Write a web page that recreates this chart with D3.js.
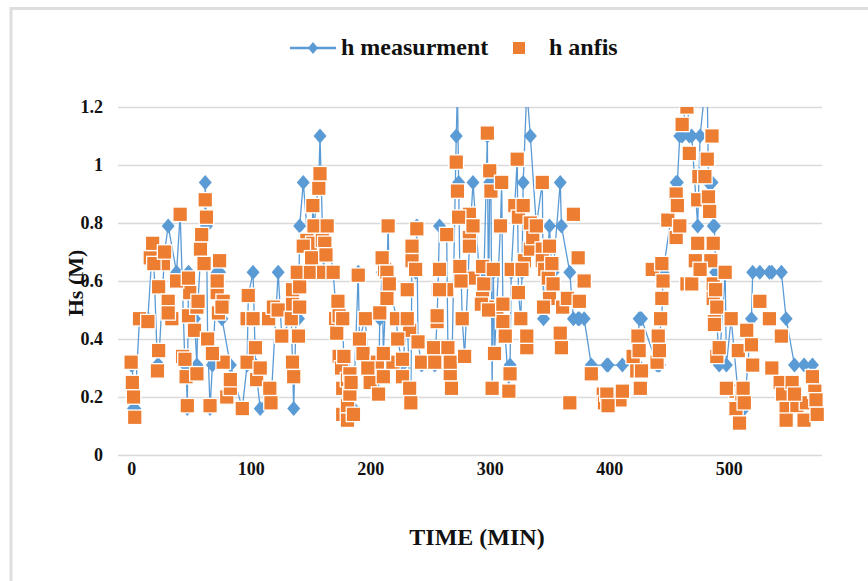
<!DOCTYPE html>
<html>
<head>
<meta charset="utf-8">
<script src="https://cdn.jsdelivr.net/npm/d3@7"></script>
<style>
  body { margin: 0; background: #fff; }
</style>
</head>
<body>
<div id="chart"></div>
<script>
const serif = "'Liberation Serif', 'Times New Roman', Times, serif";

// h measurment: time (min) and Hs (m)
const measTime = [0, 1, 2, 3, 7, 14, 18, 19, 22, 23, 28, 31, 38, 41, 45, 46, 47, 48, 53, 55, 56, 59, 61, 62, 63, 64, 66, 68, 72, 74, 76, 83, 93, 97, 98, 102, 104, 108, 116, 117,
  123, 126, 134, 135, 136, 139, 140, 141, 144, 150, 151, 152, 153, 157, 158, 161, 162, 163, 164, 169, 172, 173, 174, 177, 178, 181, 183, 184, 186, 190,
  191, 196, 198, 207, 208, 210, 211, 214, 215, 216, 222, 223, 227, 231, 233, 234, 235, 238, 239, 240, 243, 253, 254, 256, 258, 264, 265, 267, 268, 272,
  273, 274, 275, 276, 277, 279, 283, 286, 293, 294, 295, 298, 299, 300, 301, 302, 303, 304, 309, 310, 311, 313, 316, 317, 318, 323, 324, 326, 327, 328,
  331, 334, 339, 344, 345, 350, 352, 353, 359, 360, 367, 370, 374, 375, 379, 385, 398, 399, 411, 424, 425, 426, 427, 440, 441, 442, 443, 444, 445, 456,
  457, 459, 461, 465, 467, 469, 474, 476, 480, 482, 483, 484, 486, 487, 488, 489, 490, 492, 497, 498, 502, 509, 512, 513, 519, 520, 526, 534, 536, 544,
  548, 555, 563, 570, 572, 573, 574];
const measHs = [0.31, 0.31, 0.16, 0.16, 0.47, 0.47, 0.73, 0.66, 0.31, 0.31, 0.70, 0.79, 0.63, 0.83, 0.31, 0.31, 0.16, 0.63, 0.47, 0.31,
  0.53, 0.76, 0.66, 0.94, 0.79, 0.40, 0.16, 0.31, 0.63, 0.63, 0.47, 0.31, 0.16, 0.31, 0.55, 0.63, 0.31, 0.16, 0.23, 0.18,
  0.63, 0.41, 0.47, 0.31, 0.16, 0.63, 0.47, 0.79, 0.94, 0.63, 0.68, 0.86, 0.79, 0.94, 1.10, 0.63, 0.73, 0.69, 0.79, 0.63,
  0.47, 0.53, 0.47, 0.47, 0.31, 0.12, 0.28, 0.25, 0.16, 0.63,
  0.40, 0.47, 0.31, 0.21, 0.47, 0.63, 0.35, 0.63, 0.79, 0.59, 0.47, 0.40, 0.31, 0.47, 0.23, 0.18, 0.72, 0.63, 0.79, 0.39,
  0.31, 0.37, 0.31, 0.47, 0.79, 0.76, 0.37, 0.31, 0.23, 1.10,
  1.26, 0.94, 0.63, 0.63, 0.47, 0.34, 0.72, 0.94, 0.52, 0.63, 0.59, 1.10, 0.50, 0.94, 0.94, 0.23, 0.63, 0.35, 0.79, 0.94,
  0.52, 0.41, 0.22, 0.31, 0.63, 1.02, 0.56, 0.47, 0.63, 0.94,
  1.26, 1.10, 0.79, 0.94, 0.47, 0.79, 0.63, 0.63, 0.94, 0.79, 0.63, 0.47, 0.47, 0.47, 0.47, 0.31, 0.31, 0.31, 0.31, 0.31,
  0.47, 0.47, 0.47, 0.31, 0.31, 0.31, 0.47, 0.47, 0.63, 0.94,
  0.94, 1.10, 1.10, 1.26, 1.10, 1.10, 0.79, 1.10, 1.26, 1.26, 0.94, 0.94, 0.94, 0.79, 0.79, 0.63, 0.47, 0.31, 0.63, 0.31,
  0.47, 0.16, 0.16, 0.16, 0.47, 0.63, 0.63, 0.63, 0.63, 0.63,
  0.47, 0.31, 0.31, 0.31, 0.16, 0.16, 0.16];

// h anfis: partly hidden squares first, then the ones on top
const anfisTime = [16, 23, 27, 31, 34, 43, 48, 49, 55, 58, 72, 73, 77, 77, 80, 83, 97, 105, 115, 119,
  135, 135, 141, 147, 152, 160, 171, 174, 176, 177, 177, 181, 181, 183, 194, 200, 206, 211, 212, 214,
  219, 227, 231, 233, 235, 256, 257, 258, 264, 267, 283, 283, 286, 294, 298, 306, 311, 321, 324, 329,
  331, 334, 336, 344, 344, 346, 349, 350, 361, 365, 395, 396, 409, 420, 423, 436, 444, 449, 456, 465,
  472, 474, 475, 485, 487, 487, 488, 490, 506, 506, 508, 511, 515, 543, 545, 548, 553, 557, 565,
  0, 1, 2, 3, 7, 14, 18, 19, 22, 23, 28, 31, 38, 41, 45, 46, 47, 48, 53, 55, 56, 59, 61, 62, 63, 64, 66, 68, 72, 74, 76, 83, 93, 97, 98, 102, 104, 108, 116, 117,
  123, 126, 134, 135, 136, 139, 140, 141, 144, 150, 151, 152, 153, 157, 158, 161, 162, 163, 164, 169, 172, 173, 174, 177, 178, 181, 183, 184, 186, 190,
  191, 196, 198, 207, 208, 210, 211, 214, 215, 216, 222, 223, 227, 231, 233, 234, 235, 238, 239, 240, 243, 253, 254, 256, 258, 264, 265, 267, 268, 272,
  273, 274, 275, 276, 277, 279, 283, 286, 293, 294, 295, 298, 299, 300, 301, 302, 303, 304, 309, 310, 311, 313, 316, 317, 318, 323, 324, 326, 327, 328,
  331, 334, 339, 344, 345, 350, 352, 353, 359, 360, 367, 370, 374, 375, 379, 385, 398, 399, 411, 424, 425, 426, 427, 440, 441, 442, 443, 444, 445, 456,
  457, 459, 461, 465, 467, 469, 474, 476, 480, 482, 483, 484, 486, 487, 488, 489, 490, 492, 497, 498, 502, 509, 512, 513, 519, 520, 526, 534, 536, 544,
  548, 555, 563, 570, 572, 573, 574];
const anfisHs = [0.68, 0.58, 0.66, 0.53, 0.47, 0.34, 0.48, 0.56, 0.51, 0.71, 0.56, 0.49, 0.53, 0.32, 0.20, 0.23, 0.47, 0.26, 0.47, 0.51,
  0.52, 0.57, 0.58, 0.74, 0.73, 0.74, 0.47, 0.34, 0.30, 0.23, 0.14, 0.17, 0.26, 0.21, 0.35, 0.25, 0.32, 0.27, 0.64, 0.54,
  0.32, 0.27, 0.57, 0.43, 0.67, 0.46, 0.57, 0.64, 0.57, 0.28, 0.83, 0.75, 0.61, 0.54, 0.51, 0.50, 0.46, 0.86, 0.82, 0.67,
  0.37, 0.71, 0.75, 0.71, 0.67, 0.64, 0.61, 0.54, 0.51, 0.54, 0.21, 0.18, 0.19, 0.34, 0.29, 0.64, 0.66, 0.81, 0.75, 0.59,
  0.67, 0.88, 0.96, 0.67, 0.59, 0.54, 0.46, 0.34, 0.22, 0.16, 0.36, 0.21, 0.43, 0.25, 0.21, 0.16, 0.25, 0.17, 0.18,
  0.32, 0.25, 0.20, 0.13, 0.47, 0.46, 0.73, 0.66, 0.29, 0.36, 0.70, 0.49, 0.60, 0.83, 0.33, 0.27, 0.17, 0.61, 0.43, 0.28,
  0.53, 0.76, 0.66, 0.88, 0.82, 0.40, 0.17, 0.35, 0.60, 0.67, 0.51, 0.26, 0.16, 0.32, 0.55, 0.47, 0.37, 0.30, 0.23, 0.18,
  0.50, 0.41, 0.47, 0.32, 0.27, 0.63, 0.41, 0.51, 0.72, 0.63, 0.68, 0.86, 0.79, 0.92, 0.97, 0.63, 0.73, 0.69, 0.79, 0.63,
  0.42, 0.53, 0.48, 0.47, 0.34, 0.12, 0.28, 0.25, 0.14, 0.62,
  0.40, 0.47, 0.30, 0.21, 0.49, 0.68, 0.35, 0.63, 0.79, 0.59, 0.47, 0.40, 0.33, 0.47, 0.23, 0.18, 0.72, 0.64, 0.78, 0.39,
  0.32, 0.37, 0.32, 0.48, 0.57, 0.76, 0.37, 0.32, 0.23, 1.01,
  0.91, 0.82, 0.65, 0.60, 0.47, 0.34, 0.72, 0.79, 0.52, 0.65, 0.59, 1.11, 0.50, 0.98, 0.91, 0.23, 0.64, 0.35, 0.79, 0.94,
  0.52, 0.41, 0.22, 0.28, 0.64, 1.02, 0.56, 0.47, 0.64, 0.86,
  0.41, 0.80, 0.79, 0.94, 0.51, 0.72, 0.66, 0.59, 0.42, 0.37, 0.18, 0.83, 0.68, 0.53, 0.60, 0.28, 0.21, 0.17, 0.22, 0.41,
  0.36, 0.23, 0.29, 0.32, 0.41, 0.36, 0.47, 0.54, 0.60, 0.90,
  0.86, 0.79, 1.14, 1.20, 1.04, 0.59, 0.73, 0.64, 0.96, 1.02, 0.89, 0.84, 1.10, 0.73, 0.45, 0.57, 0.51, 0.37, 0.63, 0.23,
  0.47, 0.11, 0.23, 0.18, 0.38, 0.31, 0.53, 0.47, 0.30, 0.41,
  0.12, 0.21, 0.12, 0.27, 0.22, 0.19, 0.14];

const xTicks = [0, 100, 200, 300, 400, 500];
const yTicks = [0, 0.2, 0.4, 0.6, 0.8, 1, 1.2];

const width = 868, height = 581;
const margin = { top: 107, right: 46, bottom: 126, left: 118 };
const w = width - margin.left - margin.right;
const h = height - margin.top - margin.bottom;

const svg = d3.select("#chart").append("svg")
    .attr("width", width)
    .attr("height", height)
    .attr("font-family", serif)
    .attr("font-weight", "bold");

// outer frame (only top and left edge visible)
svg.append("path")
    .attr("d", "M11,581 L11,8.5 L868,8.5")
    .attr("fill", "none")
    .attr("stroke", "#dedede")
    .attr("stroke-width", 3);

const chart = svg.append("g")
    .attr("transform", "translate(" + margin.left + "," + margin.top + ")");

const x = d3.scaleLinear().domain([-11, 578]).range([0, w]);
const y = d3.scaleLinear().domain([0, 1.2]).range([h, 0]);

svg.append("clipPath").attr("id", "plot-clip")
    .append("rect").attr("x", -10).attr("y", 0).attr("width", w + 20).attr("height", h + 10);

// horizontal gridlines
chart.append("g")
    .call(d3.axisLeft(y).tickValues(yTicks).tickSize(-w).tickFormat(""))
    .call(g => g.select(".domain").remove())
    .call(g => g.selectAll("line").attr("stroke", "#d9d9d9").attr("stroke-width", 1.5));

// y axis labels
chart.append("g")
    .attr("transform", "translate(-12,0)")
    .call(d3.axisLeft(y).tickValues(yTicks).tickSize(0).tickFormat(d => d))
    .call(g => g.select(".domain").remove())
    .call(g => g.attr("font-family", serif).attr("font-size", 18))
    .call(g => g.selectAll("text").attr("fill", "#111").attr("font-weight", "bold"));

// x axis labels
chart.append("g")
    .attr("transform", "translate(0," + (h + 4) + ")")
    .call(d3.axisBottom(x).tickValues(xTicks).tickSize(0).tickFormat(d => d))
    .call(g => g.select(".domain").remove())
    .call(g => g.attr("font-family", serif).attr("font-size", 18))
    .call(g => g.selectAll("text").attr("fill", "#111").attr("font-weight", "bold"));

// axis titles
svg.append("text")
    .attr("transform", "translate(83,283) rotate(-90)")
    .attr("text-anchor", "middle")
    .attr("font-size", 22)
    .attr("fill", "#111")
    .text("Hs (M)");

svg.append("text")
    .attr("x", 477)
    .attr("y", 545)
    .attr("text-anchor", "middle")
    .attr("font-size", 24)
    .attr("fill", "#111")
    .text("TIME (MIN)");

const plot = chart.append("g").attr("clip-path", "url(#plot-clip)");

const meas = measTime.map((t, i) => [t, measHs[i]]);
const anfis = anfisTime.map((t, i) => [t, anfisHs[i]]);

const diamond = "M0,-7.5 L6.5,0 L0,7.5 L-6.5,0 Z";

plot.append("path")
    .datum(meas)
    .attr("fill", "none")
    .attr("stroke", "#5b9bd5")
    .attr("stroke-width", 1.3)
    .attr("d", d3.line().x(d => x(d[0])).y(d => y(d[1])));

plot.append("g").selectAll("path")
    .data(meas)
    .join("path")
    .attr("transform", d => "translate(" + x(d[0]) + "," + y(d[1]) + ")")
    .attr("d", diamond)
    .attr("fill", "#5b9bd5");

const sq = 14.5;
plot.append("g").selectAll("rect")
    .data(anfis)
    .join("rect")
    .attr("x", d => x(d[0]) - sq / 2)
    .attr("y", d => y(d[1]) - sq / 2)
    .attr("width", sq)
    .attr("height", sq)
    .attr("fill", "#ed7d31")
    .attr("stroke", "#fff")
    .attr("stroke-width", 1.3);

// legend
const legend = svg.append("g");
legend.append("line")
    .attr("x1", 290).attr("x2", 336).attr("y1", 48).attr("y2", 48)
    .attr("stroke", "#5b9bd5").attr("stroke-width", 2.5);
legend.append("path")
    .attr("transform", "translate(313,48)")
    .attr("d", "M0,-6 L5,0 L0,6 L-5,0 Z")
    .attr("fill", "#5b9bd5");
legend.append("text")
    .attr("x", 341).attr("y", 55)
    .attr("font-size", 24)
    .attr("fill", "#111")
    .text("h measurment");
legend.append("rect")
    .attr("x", 513).attr("y", 42).attr("width", 12).attr("height", 12)
    .attr("fill", "#ed7d31");
legend.append("text")
    .attr("x", 549).attr("y", 55)
    .attr("font-size", 24)
    .attr("fill", "#111")
    .text("h anfis");
</script>
</body>
</html>
